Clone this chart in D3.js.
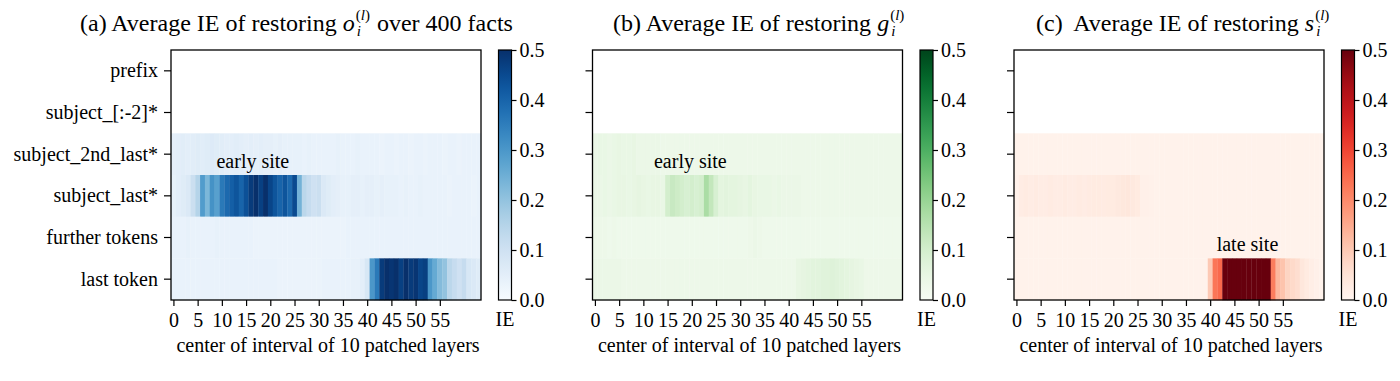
<!DOCTYPE html>
<html>
<head>
<meta charset="utf-8">
<script src="https://cdn.jsdelivr.net/npm/d3@7"></script>
<style>
body{margin:0;background:#fff;}
text{font-family:"Liberation Serif","Times New Roman",serif;fill:#000;white-space:pre;}
</style>
</head>
<body>
<svg id="chart" width="1400" height="381"></svg>
<script>
// token rows and layer columns
var rows = ["prefix","subject_[:-2]*","subject_2nd_last*","subject_last*","further tokens","last token"];
var layers = d3.range(64);
var xTicks = [0,5,10,15,20,25,30,35,40,45,50,55];
var cbTicks = [0,0.1,0.2,0.3,0.4,0.5];

// (a) o_i  (rows prefix and subject_[:-2] have no value)
var oSubj2nd = [0.045,0.05,0.055,0.05,0.055,0.06,0.055,0.06,0.065,0.06,0.055,0.05,0.05,0.055,0.05,0.045,
  0.05,0.045,0.05,0.045,0.045,0.04,0.045,0.04,0.04,0.04,0.04,0.035,0.04,0.035,0.035,0.035,
  0.035,0.035,0.04,0.035,0.035,0.035,0.04,0.035,0.035,0.035,0.035,0.03,0.035,0.035,0.03,0.035,
  0.035,0.03,0.035,0.035,0.03,0.035,0.035,0.035,0.03,0.035,0.035,0.03,0.035,0.035,0.035,0.035];
var oSubjLast = [0.04,0.05,0.06,0.07,0.11,0.15,0.29,0.23,0.31,0.28,0.36,0.39,0.41,0.43,0.40,0.44,
  0.48,0.50,0.47,0.50,0.46,0.43,0.40,0.43,0.39,0.45,0.24,0.14,0.12,0.10,0.11,0.07,
  0.06,0.05,0.045,0.04,0.04,0.045,0.045,0.04,0.045,0.045,0.04,0.045,0.04,0.04,0.04,0.035,
  0.04,0.035,0.035,0.04,0.035,0.035,0.035,0.035,0.035,0.03,0.035,0.035,0.035,0.035,0.03,0.035];
var oFurther = [0.035,0.035,0.035,0.04,0.035,0.035,0.035,0.035,0.035,0.04,0.035,0.035,0.035,0.035,0.035,0.035,
  0.035,0.03,0.03,0.03,0.03,0.03,0.03,0.03,0.03,0.03,0.03,0.03,0.03,0.03,0.03,0.03,
  0.03,0.03,0.03,0.03,0.035,0.035,0.035,0.035,0.035,0.035,0.035,0.035,0.035,0.035,0.035,0.035,
  0.035,0.035,0.035,0.035,0.035,0.035,0.035,0.035,0.035,0.035,0.035,0.035,0.035,0.035,0.035,0.035];
var oLast = [0.035,0.035,0.035,0.035,0.035,0.035,0.035,0.035,0.035,0.035,0.035,0.035,0.035,0.035,0.035,0.035,
  0.035,0.035,0.035,0.035,0.035,0.035,0.03,0.03,0.03,0.03,0.03,0.03,0.03,0.03,0.03,0.035,
  0.035,0.035,0.035,0.035,0.035,0.04,0.04,0.05,0.08,0.30,0.36,0.48,0.50,0.49,0.50,0.47,
  0.50,0.48,0.49,0.46,0.47,0.30,0.26,0.22,0.20,0.14,0.12,0.10,0.12,0.08,0.07,0.06];

// (b) g_i
var gSubj2nd = [0.04,0.045,0.045,0.04,0.045,0.05,0.045,0.045,0.05,0.04,0.04,0.04,0.04,0.04,0.035,0.035,
  0.035,0.035,0.035,0.035,0.035,0.035,0.035,0.035,0.035,0.035,0.035,0.035,0.035,0.035,0.035,0.035,
  0.035,0.035,0.035,0.035,0.035,0.035,0.035,0.035,0.035,0.035,0.035,0.035,0.035,0.035,0.035,0.035,
  0.035,0.035,0.035,0.035,0.035,0.035,0.035,0.035,0.035,0.035,0.035,0.035,0.035,0.035,0.035,0.035];
var gSubjLast = [0.04,0.04,0.045,0.04,0.045,0.05,0.05,0.045,0.05,0.055,0.05,0.045,0.05,0.05,0.045,0.10,
  0.12,0.11,0.10,0.09,0.10,0.09,0.10,0.17,0.13,0.09,0.06,0.065,0.06,0.06,0.055,0.05,
  0.06,0.05,0.045,0.045,0.045,0.04,0.045,0.04,0.04,0.04,0.04,0.035,0.035,0.035,0.035,0.035,
  0.035,0.035,0.035,0.035,0.035,0.035,0.035,0.035,0.035,0.035,0.035,0.035,0.035,0.035,0.035,0.035];
var gFurther = [0.035,0.035,0.035,0.03,0.035,0.03,0.03,0.03,0.03,0.03,0.03,0.03,0.03,0.03,0.03,0.03,
  0.03,0.03,0.03,0.03,0.03,0.03,0.03,0.03,0.03,0.03,0.03,0.03,0.03,0.03,0.03,0.03,
  0.035,0.04,0.035,0.03,0.03,0.03,0.03,0.03,0.03,0.03,0.03,0.03,0.03,0.03,0.03,0.03,
  0.03,0.03,0.03,0.03,0.03,0.03,0.03,0.03,0.03,0.03,0.03,0.03,0.03,0.03,0.03,0.03];
var gLast = [0.04,0.04,0.04,0.04,0.04,0.04,0.035,0.035,0.035,0.035,0.035,0.035,0.035,0.035,0.035,0.035,
  0.035,0.035,0.035,0.035,0.035,0.035,0.035,0.035,0.035,0.035,0.035,0.035,0.035,0.035,0.035,0.035,
  0.035,0.035,0.035,0.035,0.035,0.035,0.035,0.035,0.035,0.035,0.05,0.055,0.06,0.065,0.065,0.07,
  0.07,0.075,0.07,0.065,0.06,0.055,0.05,0.045,0.035,0.035,0.035,0.035,0.035,0.035,0.035,0.035];

// (c) s_i
var sSubj2nd = [0.01,0.01,0.01,0.01,0.01,0.01,0.01,0.01,0.01,0.01,0.01,0.01,0.01,0.01,0.01,0.01,
  0.01,0.01,0.01,0.01,0.01,0.01,0.01,0.01,0.01,0.01,0.01,0.01,0.01,0.01,0.01,0.01,
  0.01,0.01,0.01,0.01,0.01,0.01,0.01,0.01,0.01,0.01,0.01,0.01,0.01,0.01,0.01,0.01,
  0.01,0.01,0.01,0.01,0.01,0.01,0.01,0.01,0.01,0.01,0.01,0.01,0.01,0.01,0.01,0.01];
var sSubjLast = [0.012,0.025,0.028,0.025,0.028,0.025,0.025,0.028,0.025,0.025,0.028,0.025,0.025,0.028,0.025,0.028,
  0.03,0.03,0.028,0.03,0.03,0.035,0.038,0.04,0.035,0.03,0.015,0.015,0.012,0.01,0.01,0.01,
  0.01,0.01,0.01,0.01,0.01,0.01,0.01,0.01,0.01,0.01,0.01,0.01,0.01,0.01,0.01,0.01,
  0.01,0.01,0.01,0.01,0.01,0.01,0.01,0.01,0.01,0.01,0.01,0.01,0.01,0.01,0.01,0.01];
var sFurther = [0.01,0.01,0.01,0.01,0.01,0.01,0.01,0.01,0.01,0.01,0.01,0.01,0.01,0.01,0.01,0.01,
  0.01,0.01,0.01,0.01,0.01,0.01,0.01,0.01,0.01,0.01,0.01,0.01,0.01,0.01,0.01,0.01,
  0.01,0.01,0.01,0.01,0.01,0.01,0.01,0.01,0.01,0.01,0.01,0.01,0.01,0.01,0.01,0.01,
  0.01,0.01,0.01,0.01,0.01,0.01,0.01,0.01,0.01,0.01,0.01,0.01,0.01,0.01,0.01,0.01];
var sLast = [0.01,0.01,0.01,0.01,0.01,0.01,0.01,0.01,0.01,0.01,0.01,0.01,0.01,0.01,0.01,0.01,
  0.01,0.01,0.01,0.01,0.01,0.01,0.01,0.01,0.01,0.01,0.01,0.01,0.01,0.01,0.01,0.01,
  0.01,0.01,0.01,0.01,0.01,0.01,0.01,0.01,0.10,0.23,0.25,0.55,0.55,0.55,0.55,0.55,
  0.55,0.55,0.55,0.55,0.55,0.22,0.13,0.11,0.08,0.07,0.06,0.04,0.03,0.02,0.015,0.01];

var svg = d3.select("#chart");
var plotW = 310, plotH = 250, plotTop = 50;

var panels = [
  {left:171, data:[null,null,oSubj2nd,oSubjLast,oFurther,oLast], interp:d3.interpolateBlues,
   title:["(a) Average IE of restoring ","o"," over 400 facts"], titleX:80,
   note:"early site", noteX:16.4, noteRow:"subject_last*", yLabels:true},
  {left:592.5, data:[null,null,gSubj2nd,gSubjLast,gFurther,gLast], interp:d3.interpolateGreens,
   title:["(b) Average IE of restoring ","g",""], titleX:613,
   note:"early site", noteX:19.7, noteRow:"subject_last*", yLabels:false},
  {left:1014, data:[null,null,sSubj2nd,sSubjLast,sFurther,sLast], interp:d3.interpolateReds,
   title:["(c)  Average IE of restoring ","s",""], titleX:1036,
   note:"late site", noteX:47.7, noteRow:"last token", yLabels:false}
];

var x = d3.scaleLinear().domain([-0.5, 63.5]).range([0, plotW]);
var y = d3.scaleBand().domain(rows).range([0, plotH]);
var cb = d3.scaleLinear().domain([0, 0.5]).range([plotH, 0]);

function drawTitle(tx, ty, parts) {
  var pre = svg.append("text").attr("x", tx).attr("y", ty).style("font-size", "24px").text(parts[0]);
  var x1 = tx + pre.node().getComputedTextLength();
  var sym = svg.append("text").attr("x", x1).attr("y", ty).style("font-size", "24px")
    .style("font-style", "italic").text(parts[1]);
  var x2 = x1 + sym.node().getComputedTextLength() + 1;
  var sup = svg.append("text").attr("x", x2).attr("y", ty - 11).style("font-size", "15px");
  sup.append("tspan").text("(");
  sup.append("tspan").style("font-style", "italic").text("l");
  sup.append("tspan").text(")");
  svg.append("text").attr("x", x2 + 1).attr("y", ty + 5).style("font-size", "15px")
    .style("font-style", "italic").text("i");
  var x3 = x2 + sup.node().getComputedTextLength() + 1;
  if (parts[2]) {
    svg.append("text").attr("x", x3).attr("y", ty).style("font-size", "24px").text(parts[2]);
  }
}

panels.forEach(function(p, pi) {
  var g = svg.append("g").attr("transform", "translate(" + p.left + "," + plotTop + ")");
  var color = d3.scaleSequential(p.interp).domain([0, 0.5]).clamp(true);

  // cells
  p.data.forEach(function(vals, ri) {
    if (!vals) return;
    g.selectAll(".c" + ri).data(vals).enter().append("rect")
      .attr("x", function(d, i) { return x(i - 0.5); })
      .attr("width", function(d, i) { return x(i + 0.5) - x(i - 0.5) + 0.3; })
      .attr("y", y(rows[ri]))
      .attr("height", y.bandwidth() + 0.3)
      .attr("fill", function(d) { return color(d); });
  });

  g.append("rect").attr("width", plotW).attr("height", plotH)
    .attr("fill", "none").attr("stroke", "#000").attr("stroke-width", 1.3);

  // axes
  var xa = g.append("g").attr("transform", "translate(0," + plotH + ")")
    .call(d3.axisBottom(x).tickValues(xTicks).tickSize(6).tickPadding(7).tickFormat(d3.format("d")));
  var ya = g.append("g")
    .call(d3.axisLeft(y).tickSize(7).tickPadding(6).tickFormat(p.yLabels ? null : ""));
  [xa, ya].forEach(function(a) {
    a.select(".domain").remove();
    a.selectAll("line").attr("stroke", "#000").attr("stroke-width", 1.2);
    a.selectAll("text").style("font-size", "20px").style("font-family", null).attr("fill", "#000");
  });

  g.append("text").attr("x", plotW / 2 + 2).attr("y", 302).attr("text-anchor", "middle")
    .style("font-size", "20px").text("center of interval of 10 patched layers");

  // annotation
  g.append("text").attr("x", x(p.noteX)).attr("y", y(p.noteRow) - 7)
    .attr("text-anchor", "middle").style("font-size", "20px").text(p.note);

  // colorbar
  var cbx = plotW + 17.5, cbw = 13;
  var gid = "grad" + pi;
  var grad = svg.append("defs").append("linearGradient").attr("id", gid)
    .attr("x1", 0).attr("y1", 1).attr("x2", 0).attr("y2", 0);
  grad.selectAll("stop").data(d3.range(0, 1.0001, 0.05)).enter().append("stop")
    .attr("offset", function(d) { return d; })
    .attr("stop-color", function(d) { return p.interp(d); });
  var cg = g.append("g").attr("transform", "translate(" + cbx + ",0)");
  cg.append("rect").attr("width", cbw).attr("height", plotH).attr("fill", "url(#" + gid + ")")
    .attr("stroke", "#000").attr("stroke-width", 1.2);
  var ca = cg.append("g").attr("transform", "translate(" + cbw + ",0)")
    .call(d3.axisRight(cb).tickValues(cbTicks).tickSize(5).tickPadding(3).tickFormat(d3.format(".1f")));
  ca.select(".domain").remove();
  ca.selectAll("line").attr("stroke", "#000").attr("stroke-width", 1.2);
  ca.selectAll("text").style("font-size", "20px").style("font-family", null).attr("fill", "#000");
  cg.append("text").attr("x", cbw / 2).attr("y", 276).attr("text-anchor", "middle")
    .style("font-size", "20px").text("IE");

  drawTitle(p.titleX, 31, p.title);
});
</script>
</body>
</html>
